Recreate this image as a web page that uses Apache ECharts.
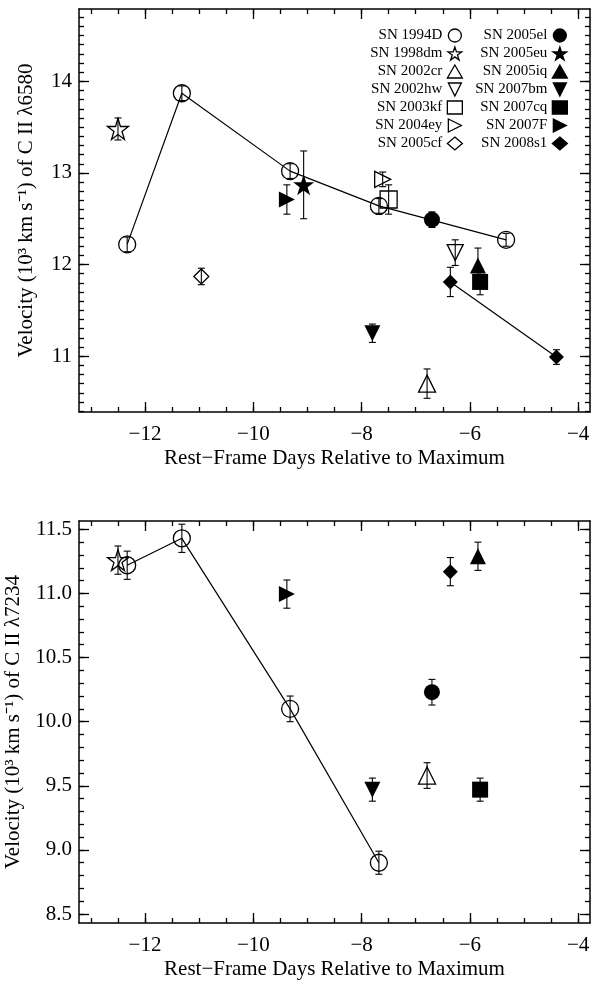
<!DOCTYPE html>
<html>
<head>
<meta charset="utf-8">
<title>C II velocities</title>
<script src="https://cdn.jsdelivr.net/npm/echarts@6/dist/echarts.min.js"></script>
<style>html,body{margin:0;padding:0;background:#fff;}</style>
</head>
<body>
<div id="chart" style="width:597px;height:982px;"></div>
<script>
// supernova names, legend order (two columns of seven)
var snNames = ['SN 1994D', 'SN 1998dm', 'SN 2002cr', 'SN 2002hw', 'SN 2003kf', 'SN 2004ey', 'SN 2005cf',
               'SN 2005el', 'SN 2005eu', 'SN 2005iq', 'SN 2007bm', 'SN 2007cq', 'SN 2007F', 'SN 2008s1'];

// C II 6580: rest-frame day, velocity (10^3 km/s), error
var sn6580  = ['SN 1994D', 'SN 1994D', 'SN 1994D', 'SN 1994D', 'SN 1994D', 'SN 1998dm', 'SN 2002cr', 'SN 2002hw',
               'SN 2003kf', 'SN 2004ey', 'SN 2005cf', 'SN 2005el', 'SN 2005eu', 'SN 2005iq', 'SN 2007bm',
               'SN 2007cq', 'SN 2007F', 'SN 2008s1', 'SN 2008s1'];
var day6580 = [-12.33, -11.32, -9.32, -7.68, -5.33, -12.50, -6.79, -6.27,
               -7.50, -7.61, -10.96, -6.70, -9.07, -5.85, -7.80,
               -5.81, -9.38, -6.36, -4.40];
var vel6580 = [12.22, 13.87, 13.02, 12.64, 12.27, 13.48, 10.70, 12.13,
               12.71, 12.93, 11.87, 12.49, 12.87, 11.99, 11.25,
               11.81, 12.71, 11.81, 10.99];
var err6580 = [0.08, 0.08, 0.08, 0.08, 0.07, 0.12, 0.16, 0.14,
               0.16, 0.08, 0.09, 0.085, 0.37, 0.19, 0.10,
               0.14, 0.16, 0.16, 0.08];

// C II 7234
var sn7234  = ['SN 1994D', 'SN 1994D', 'SN 1994D', 'SN 1994D', 'SN 1998dm', 'SN 2002cr', 'SN 2005el',
               'SN 2005iq', 'SN 2007bm', 'SN 2007cq', 'SN 2007F', 'SN 2008s1'];
var day7234 = [-12.33, -11.32, -9.32, -7.68, -12.50, -6.79, -6.70,
               -5.85, -7.80, -5.81, -9.38, -6.36];
var vel7234 = [11.22, 11.43, 10.10, 8.90, 11.26, 9.58, 10.23,
               11.29, 9.47, 9.47, 10.995, 11.17];
var err7234 = [0.11, 0.11, 0.10, 0.09, 0.11, 0.10, 0.10,
               0.11, 0.09, 0.09, 0.11, 0.11];

// tick labels
var xTicks = [-12, -10, -8, -6, -4];
var yTicks6580 = [11, 12, 13, 14];
var yTicks7234 = [8.5, 9.0, 9.5, 10.0, 10.5, 11.0, 11.5];

var FONT = 'Liberation Serif';
var STAR = 'path://M50,0L61.2,34.5L97.6,34.5L68.2,55.9L79.4,90.5L50,69.1L20.6,90.5L31.8,55.9L2.4,34.5L38.8,34.5Z';
var TRI_DOWN = 'path://M0,0L10,0L5,10Z';
var TRI_RIGHT = 'path://M0,0L10,5L0,10Z';
// symbol, size, filled
var markers = {
    'SN 1994D': ['circle', 17, false],
    'SN 1998dm': [STAR, 21, false],
    'SN 2002cr': ['triangle', 17, false],
    'SN 2002hw': [TRI_DOWN, 16, false],
    'SN 2003kf': ['rect', 17, false],
    'SN 2004ey': [TRI_RIGHT, 16, false],
    'SN 2005cf': ['diamond', 15, false],
    'SN 2005el': ['circle', 16, true],
    'SN 2005eu': [STAR, 21, true],
    'SN 2005iq': ['triangle', 16, true],
    'SN 2007bm': [TRI_DOWN, 16, true],
    'SN 2007cq': ['rect', 16, true],
    'SN 2007F': [TRI_RIGHT, 16, true],
    'SN 2008s1': ['diamond', 15, true]
};

function range(a, b, step) {
    var out = [];
    for (var v = a; v <= b + 1e-9; v += step) out.push(Math.round(v * 100) / 100);
    return out;
}

var XMIN = -13.22, XMAX = -3.78;
var grids = [
    {left: 79, right: 7, top: 9, height: 403, ymin: 10.39, ymax: 14.79, yMajor: yTicks6580, yMinor: range(10.4, 14.7, 0.1),
     yName: 'Velocity (10\u00b3 km s\u207b\u00b9) of C II \u03bb6580', dec: 0},
    {left: 79, right: 7, top: 521, height: 402, ymin: 8.43, ymax: 11.565, yMajor: yTicks7234, yMinor: range(8.5, 11.5, 0.1),
     yName: 'Velocity (10\u00b3 km s\u207b\u00b9) of C II \u03bb7234', dec: 1}
];

function minus(s) { return String(s).replace('-', '\u2212'); }

var xAxes = [], yAxes = [];
grids.forEach(function (g, gi) {
    ['bottom', 'top'].forEach(function (pos) {
        var major = {
            type: 'value', gridIndex: gi, position: pos, min: XMIN, max: XMAX,
            axisLine: {show: true, onZero: false, lineStyle: {color: '#000', width: 1.5}},
            axisTick: {show: true, inside: true, length: 10, customValues: xTicks, lineStyle: {color: '#000', width: 1.3}},
            axisLabel: {show: pos === 'bottom', customValues: xTicks, margin: 12, color: '#000', fontSize: 21, fontFamily: FONT,
                        formatter: function (v) { return minus(v); }},
            splitLine: {show: false}
        };
        if (pos === 'bottom') {
            major.name = 'Rest\u2212Frame Days Relative to Maximum';
            major.nameLocation = 'middle';
            major.nameGap = 36;
            major.nameTextStyle = {color: '#000', fontSize: 21, fontFamily: FONT};
        }
        xAxes.push(major);
        xAxes.push({
            type: 'value', gridIndex: gi, position: pos, min: XMIN, max: XMAX,
            axisLine: {show: false, onZero: false},
            axisTick: {show: true, inside: true, length: 5, customValues: range(-13, -4, 0.5), lineStyle: {color: '#000', width: 1.3}},
            axisLabel: {show: false}, splitLine: {show: false}
        });
    });
    ['left', 'right'].forEach(function (pos) {
        var major = {
            type: 'value', gridIndex: gi, position: pos, min: g.ymin, max: g.ymax,
            axisLine: {show: true, onZero: false, lineStyle: {color: '#000', width: 1.5}},
            axisTick: {show: true, inside: true, length: 10, customValues: g.yMajor, lineStyle: {color: '#000', width: 1.3}},
            axisLabel: {show: pos === 'left', customValues: g.yMajor, margin: 7, color: '#000', fontSize: 21, fontFamily: FONT,
                        formatter: function (v) { return v.toFixed(g.dec); }},
            splitLine: {show: false}
        };
        if (pos === 'left') {
            major.name = g.yName;
            major.nameLocation = 'middle';
            major.nameGap = 42;
            major.nameTextStyle = {color: '#000', fontSize: 21, fontFamily: FONT};
        }
        yAxes.push(major);
        yAxes.push({
            type: 'value', gridIndex: gi, position: pos, min: g.ymin, max: g.ymax,
            axisLine: {show: false, onZero: false},
            axisTick: {show: true, inside: true, length: 5, customValues: g.yMinor, lineStyle: {color: '#000', width: 1.3}},
            axisLabel: {show: false}, splitLine: {show: false}
        });
    });
});

function errBar(params, api) {
    var x = api.value(0), y = api.value(1), e = api.value(2);
    var p1 = api.coord([x, y + e]), p2 = api.coord([x, y - e]);
    var w = 3.5, st = {stroke: '#000', lineWidth: 1.1};
    return {type: 'group', children: [
        {type: 'line', shape: {x1: p1[0], y1: p1[1], x2: p2[0], y2: p2[1]}, style: st},
        {type: 'line', shape: {x1: p1[0] - w, y1: p1[1], x2: p1[0] + w, y2: p1[1]}, style: st},
        {type: 'line', shape: {x1: p2[0] - w, y1: p2[1], x2: p2[0] + w, y2: p2[1]}, style: st}
    ]};
}

var series = [];
function addPanel(gi, names, days, vels, errs) {
    var xi = gi * 4, yi = gi * 4;
    var bars = days.map(function (d, i) { return [d, vels[i], errs[i]]; });
    series.push({type: 'custom', xAxisIndex: xi, yAxisIndex: yi, renderItem: errBar, data: bars, z: 2, silent: true});
    snNames.forEach(function (n) {
        var pts = [];
        names.forEach(function (m, i) { if (m === n) pts.push([days[i], vels[i]]); });
        if (!pts.length) return;
        if (pts.length > 1) {
            series.push({type: 'line', name: n + ' fit', xAxisIndex: xi, yAxisIndex: yi, data: pts, showSymbol: false,
                         lineStyle: {color: '#000', width: 1.2}, z: 1, silent: true});
        }
        var mk = markers[n];
        series.push({
            type: 'scatter', name: n, xAxisIndex: xi, yAxisIndex: yi, data: pts,
            symbol: mk[0], symbolSize: mk[1],
            itemStyle: {color: mk[2] ? '#000' : 'rgba(0,0,0,0)', borderColor: '#000', borderWidth: mk[2] ? 0 : 1.3, opacity: 1},
            z: 3
        });
    });
}
addPanel(0, sn6580, day6580, vel6580, err6580);
addPanel(1, sn7234, day7234, vel7234, err7234);

function legendCol(names, right) {
    return {
        orient: 'vertical', align: 'right', right: right, top: 28, padding: 0,
        itemWidth: 15, itemHeight: 13, itemGap: 3, selectedMode: false,
        data: names, itemStyle: {borderWidth: 1.3},
        textStyle: {color: '#000', fontSize: 15, fontFamily: FONT}
    };
}

var chart = echarts.init(document.getElementById('chart'));
chart.setOption({
    animation: false,
    backgroundColor: '#fff',
    textStyle: {fontFamily: FONT, color: '#000'},
    grid: grids.map(function (g) {
        return {left: g.left, right: g.right, top: g.top, height: g.height, outerBoundsMode: 'none', containLabel: false};
    }),
    legend: [legendCol(snNames.slice(0, 7), 134), legendCol(snNames.slice(7), 29)],
    xAxis: xAxes,
    yAxis: yAxes,
    series: series
});
</script>
</body>
</html>
